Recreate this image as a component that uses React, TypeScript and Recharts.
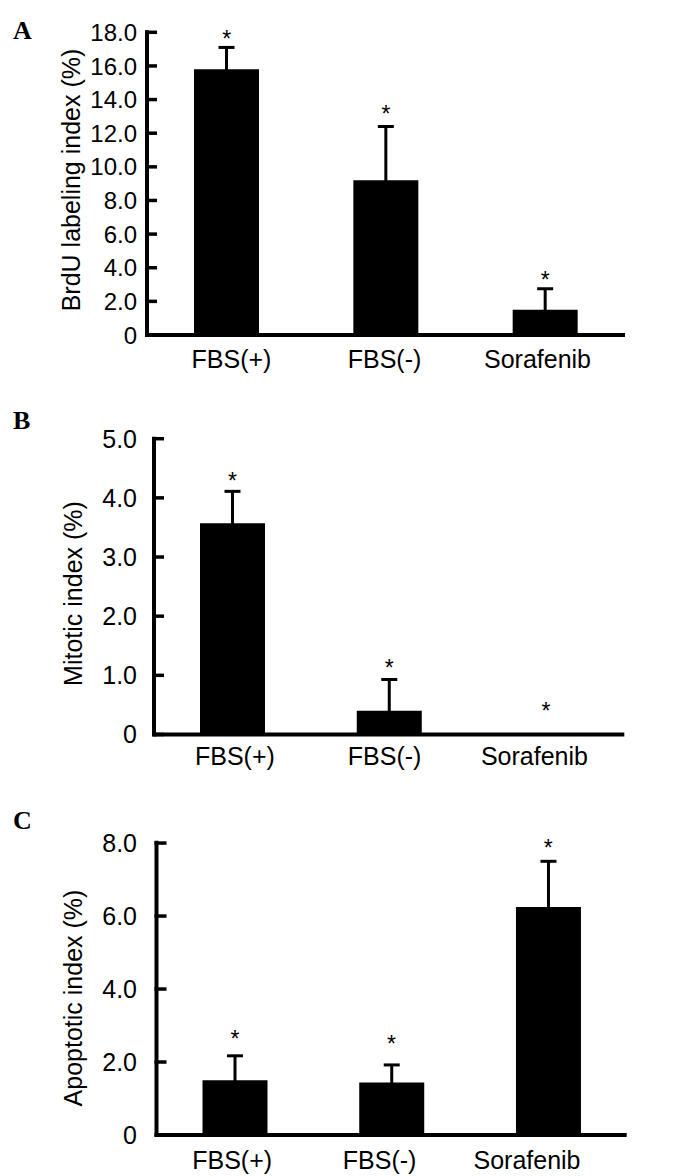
import React from 'react';
import { ComposedChart, Bar, XAxis, YAxis, ErrorBar, Scatter } from 'recharts';

// ---------- data ----------
const categories = ['FBS(+)', 'FBS(-)', 'Sorafenib'];

const brduMean = [15.8, 9.2, 1.5];
const brduErr = [1.3, 3.2, 1.25];
const brduStar = [17.92, 13.47, 3.6];
const brduTicks = [0, 2, 4, 6, 8, 10, 12, 14, 16, 18];

const mitoticMean = [3.57, 0.4, 0];
const mitoticErr = [0.54, 0.53, 0];
const mitoticStar = [4.38, 1.21, 0.49];
const mitoticTicks = [0, 1, 2, 3, 4, 5];

const apoptoticMean = [1.5, 1.44, 6.25];
const apoptoticErr = [0.67, 0.48, 1.25];
const apoptoticStar = [2.77, 2.63, 8.01];
const apoptoticTicks = [0, 2, 4, 6, 8];

const FONT = '"Liberation Sans", Arial, Helvetica, sans-serif';
const SERIF = '"Liberation Serif", "Times New Roman", serif';

// SD bars: the lower half is hidden inside the black bar (clipped at zero)
function buildRows(mean: number[], err: number[], star: number[]) {
  return categories.map((name, i) => ({
    name,
    value: mean[i],
    err: [Math.min(err[i], mean[i]), err[i]],
    star: star[i],
  }));
}

const fmt = (v: number) => (v === 0 ? '0' : v.toFixed(1));

const YTick = (props: any) => {
  const { x, y, payload, fs, labelRight } = props;
  return (
    <g>
      <line x1={x - 2} x2={x + 10} y1={y} y2={y} stroke="#000" strokeWidth={3.5} />
      <text
        x={labelRight}
        y={y + 0.358 * fs}
        textAnchor="end"
        fontFamily={FONT}
        fontSize={fs}
        fill="#000"
      >
        {fmt(payload.value)}
      </text>
    </g>
  );
};

const XTick = (props: any) => {
  const { x, y, payload, baseOff } = props;
  return (
    <text x={x} y={y + baseOff} textAnchor="middle" fontFamily={FONT} fontSize={25} fill="#000">
      {payload.value}
    </text>
  );
};

const StarShape = (props: any) => {
  const { cx, cy } = props;
  const fs = 23;
  return (
    <text x={cx} y={cy + 0.575 * fs} textAnchor="middle" fontFamily={FONT} fontSize={fs} fill="#000">
      *
    </text>
  );
};

const PanelTitle = (props: any) => {
  const { title, tx, ty, letter, letterY } = props;
  return (
    <g>
      <text
        transform={`translate(${tx},${ty}) rotate(-90)`}
        textAnchor="middle"
        fontFamily={FONT}
        fontSize={25}
        fill="#000"
      >
        {title}
      </text>
      <text x={13} y={letterY} fontFamily={SERIF} fontWeight="bold" fontSize={26} fill="#000">
        {letter}
      </text>
    </g>
  );
};

const panels = [
  {
    letter: 'A',
    title: 'BrdU labeling index (%)',
    rows: buildRows(brduMean, brduErr, brduStar),
    ticks: brduTicks,
    max: 18,
    top: 0,
    height: 390,
    margin: { top: 32.3, right: 63, bottom: 15, left: 0 },
    yWidth: 147,
    tickFont: 24,
    labelPad: { left: 8, right: 11 },
    xLabelOff: 33,
    titleX: 80,
    titleY: 180,
    letterY: 39,
  },
  {
    letter: 'B',
    title: 'Mitotic index (%)',
    rows: buildRows(mitoticMean, mitoticErr, mitoticStar),
    ticks: mitoticTicks,
    max: 5,
    top: 400,
    height: 390,
    margin: { top: 38.7, right: 63.7, bottom: 15.5, left: 0 },
    yWidth: 154,
    tickFont: 25,
    labelPad: { left: 6, right: 15 },
    xLabelOff: 30,
    titleX: 81.5,
    titleY: 193.5,
    letterY: 29,
  },
  {
    letter: 'C',
    title: 'Apoptotic index (%)',
    rows: buildRows(apoptoticMean, apoptoticErr, apoptoticStar),
    ticks: apoptoticTicks,
    max: 8,
    top: 800,
    height: 376,
    margin: { top: 42.7, right: 61.3, bottom: 1, left: 0 },
    yWidth: 156.5,
    tickFont: 25,
    labelPad: { left: 2, right: 26 },
    xLabelOff: 34,
    titleX: 81.5,
    titleY: 198,
    letterY: 29,
  },
];

export default function App() {
  return (
    <div style={{ position: 'absolute', left: 0, top: 0, width: 688, height: 1176, background: '#fff' }}>
      {panels.map((p) => (
        <div key={p.letter} style={{ position: 'absolute', left: 0, top: p.top }}>
          <ComposedChart width={688} height={p.height} data={p.rows} margin={p.margin}>
            <XAxis
              xAxisId="bars"
              dataKey="name"
              height={0}
              tick={false}
              tickLine={false}
              axisLine={false}
            />
            <XAxis
              xAxisId="labels"
              dataKey="name"
              height={40}
              interval={0}
              tickLine={false}
              tickSize={0}
              tickMargin={0}
              padding={p.labelPad}
              axisLine={{ stroke: '#000', strokeWidth: 4 }}
              tick={<XTick baseOff={p.xLabelOff} />}
            />
            <YAxis
              type="number"
              domain={[0, p.max]}
              ticks={p.ticks}
              interval={0}
              width={p.yWidth}
              tickLine={false}
              tickSize={0}
              tickMargin={0}
              axisLine={{ stroke: '#000', strokeWidth: 4, strokeLinecap: 'square' }}
              tick={<YTick fs={p.tickFont} labelRight={137} />}
              label={
                <PanelTitle
                  title={p.title}
                  tx={p.titleX}
                  ty={p.titleY}
                  letter={p.letter}
                  letterY={p.letterY}
                />
              }
            />
            <Bar xAxisId="bars" dataKey="value" fill="#000" barSize={65} isAnimationActive={false}>
              <ErrorBar dataKey="err" width={8} strokeWidth={3} stroke="#000" direction="y" isAnimationActive={false} />
            </Bar>
            <Scatter xAxisId="bars" dataKey="star" shape={<StarShape />} isAnimationActive={false} />
          </ComposedChart>
        </div>
      ))}
    </div>
  );
}
